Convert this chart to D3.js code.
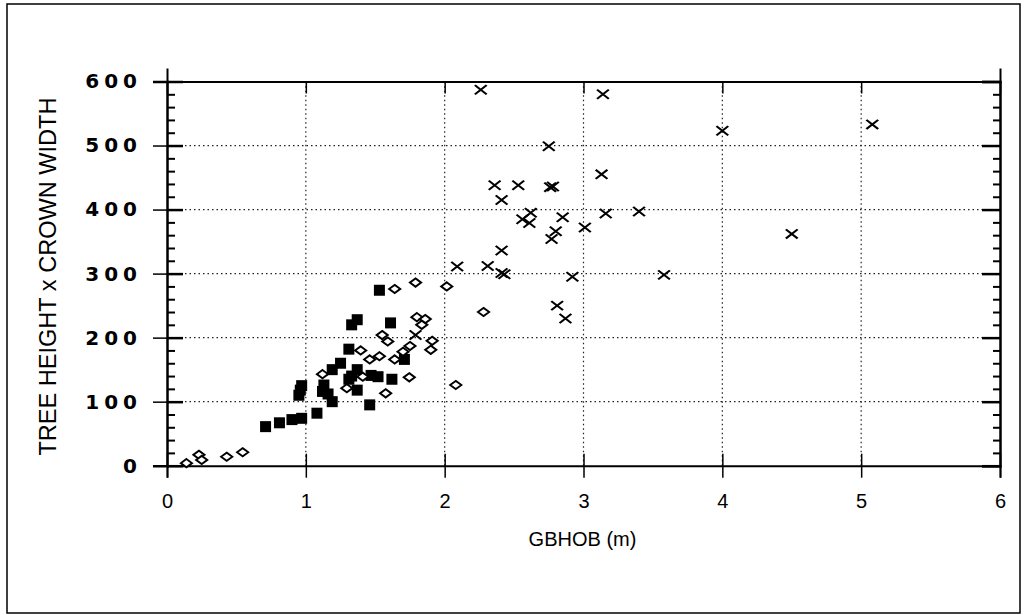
<!DOCTYPE html>
<html>
<head>
<meta charset="utf-8">
<script src="https://cdn.jsdelivr.net/npm/d3@7"></script>
<style>
  body { margin: 0; background: #fff; }
  svg { display: block; }
  text { font-family: "Liberation Sans", Arial, sans-serif; fill: #000; }
</style>
</head>
<body>
<div id="chart"></div>
<script>
// tick values
const xTicks = [0, 1, 2, 3, 4, 5, 6];
const yTicks = [0, 100, 200, 300, 400, 500, 600];

// filled squares [GBHOB, height x crown]
const squares = [
  [0.71, 61], [0.81, 67], [0.90, 72], [0.97, 74], [0.95, 110], [0.96, 118], [0.97, 125],
  [1.08, 82], [1.13, 126], [1.16, 112], [1.19, 100], [1.12, 116],
  [1.19, 150], [1.25, 160], [1.31, 182], [1.33, 220], [1.37, 228], [1.53, 274], [1.61, 223],
  [1.37, 150], [1.33, 140], [1.31, 135], [1.47, 141], [1.52, 139], [1.62, 135], [1.71, 166],
  [1.37, 118], [1.46, 95]
];

// open diamonds
const diamonds = [
  [0.14, 4], [0.23, 17], [0.25, 9], [0.43, 14], [0.545, 21],
  [1.12, 143], [1.295, 121], [1.395, 180], [1.41, 139], [1.46, 166], [1.53, 171],
  [1.55, 204], [1.59, 194], [1.575, 113], [1.64, 276], [1.64, 166], [1.70, 178],
  [1.75, 187], [1.745, 138], [1.79, 286], [1.80, 232], [1.86, 229], [1.835, 220],
  [1.91, 195], [1.90, 181], [2.015, 280], [2.28, 240], [2.08, 126]
];

// crosses
const crosses = [
  [2.26, 587], [3.14, 580], [2.75, 499], [3.13, 455], [2.36, 438], [2.53, 438],
  [2.76, 435], [2.78, 436], [2.41, 415], [2.62, 395], [2.56, 385], [2.61, 379],
  [2.85, 388], [3.16, 394], [3.40, 397], [3.01, 372], [2.80, 366], [2.77, 354],
  [2.41, 336], [2.09, 311], [2.31, 312], [2.41, 301], [2.43, 299], [2.92, 295],
  [3.58, 298], [2.81, 250], [2.87, 230], [4.00, 523], [4.50, 362], [5.08, 533],
  [1.79, 204]
];

const W = 1029, H = 615;
const plot = { left: 167, right: 1000, top: 81.5, bottom: 465.7 };

const svg = d3.select("#chart").append("svg")
  .attr("width", W).attr("height", H);

// outer frame
svg.append("rect")
  .attr("x", 7).attr("y", 4).attr("width", 1013).attr("height", 609)
  .attr("fill", "none").attr("stroke", "#000").attr("stroke-width", 1.5);

const x = d3.scaleLinear().domain([0, 6]).range([plot.left, plot.right]);
const y = d3.scaleLinear().domain([0, 600]).range([plot.bottom, plot.top]);

// dotted grid
svg.append("g").selectAll("line")
  .data(xTicks.slice(1, -1)).join("line")
  .attr("x1", d => x(d)).attr("x2", d => x(d))
  .attr("y1", y(0)).attr("y2", y(600))
  .attr("stroke", "#222").attr("stroke-width", 1.2).attr("stroke-dasharray", "1.5,3");
svg.append("g").selectAll("line")
  .data(yTicks.slice(1, -1)).join("line")
  .attr("x1", x(0)).attr("x2", x(6))
  .attr("y1", d => y(d)).attr("y2", d => y(d))
  .attr("stroke", "#222").attr("stroke-width", 1.2).attr("stroke-dasharray", "1.5,3");

const minorY = d3.range(0, 601, 20).filter(v => v % 100 !== 0);

// left axis: labels + outer half of major ticks
const leftAxis = svg.append("g").attr("transform", `translate(${plot.left},0)`)
  .call(d3.axisLeft(y).tickValues(yTicks).tickSize(14).tickPadding(16).tickFormat(d3.format("d")));
leftAxis.select(".domain").attr("stroke-width", 2.5);
leftAxis.selectAll(".tick line").attr("stroke-width", 1.5);
leftAxis.selectAll(".tick text")
  .style("font-family", "'DejaVu Sans', sans-serif")
  .style("font-size", "20px").style("font-weight", "bold")
  .style("letter-spacing", "5px").attr("dx", 5);
// inner major + minor ticks on left
svg.append("g").attr("transform", `translate(${plot.left},0)`)
  .call(d3.axisRight(y).tickValues(yTicks).tickSize(16).tickFormat(""))
  .call(g => g.select(".domain").remove())
  .selectAll("line").attr("stroke-width", 2.5);
svg.append("g").attr("transform", `translate(${plot.left},0)`)
  .call(d3.axisRight(y).tickValues(minorY).tickSize(8).tickFormat(""))
  .call(g => g.select(".domain").remove())
  .selectAll("line").attr("stroke-width", 2);

// right axis
const rightAxis = svg.append("g").attr("transform", `translate(${plot.right},0)`)
  .call(d3.axisLeft(y).tickValues(yTicks).tickSize(18).tickFormat(""));
rightAxis.select(".domain").attr("stroke-width", 2.5);
rightAxis.selectAll("line").attr("stroke-width", 2.5);
svg.append("g").attr("transform", `translate(${plot.right},0)`)
  .call(d3.axisLeft(y).tickValues(minorY).tickSize(7).tickFormat(""))
  .call(g => g.select(".domain").remove())
  .selectAll("line").attr("stroke-width", 2);

// bottom axis
const bottomAxis = svg.append("g").attr("transform", `translate(0,${plot.bottom})`)
  .call(d3.axisBottom(x).tickValues(xTicks).tickSize(12).tickPadding(16).tickFormat(d3.format("d")));
bottomAxis.select(".domain").attr("stroke-width", 2);
bottomAxis.selectAll(".tick line").attr("stroke-width", 1.5).attr("y1", -12);
bottomAxis.selectAll(".tick text").style("font-size", "20px");

// top axis
const topAxis = svg.append("g").attr("transform", `translate(0,${plot.top})`)
  .call(d3.axisTop(x).tickValues(xTicks).tickSize(13).tickFormat(""));
topAxis.select(".domain").attr("stroke-width", 2);
topAxis.selectAll(".tick line").attr("stroke-width", 1.5).attr("y2", 12);

// axis titles
svg.append("text")
  .attr("x", (plot.left + plot.right) / 2 - 1).attr("y", 546)
  .attr("text-anchor", "middle").attr("font-size", 20)
  .text("GBHOB (m)");
svg.append("text")
  .attr("transform", `translate(56,${(plot.top + plot.bottom) / 2 + 3}) rotate(-90)`)
  .attr("text-anchor", "middle").attr("font-size", 24)
  .attr("textLength", 358).attr("lengthAdjust", "spacingAndGlyphs")
  .text("TREE HEIGHT x CROWN WIDTH");

// markers
const marks = svg.append("g");
marks.selectAll(".sq").data(squares).join("rect")
  .attr("class", "sq")
  .attr("x", d => x(d[0]) - 5.5).attr("y", d => y(d[1]) - 5.5)
  .attr("width", 11).attr("height", 11).attr("fill", "#000");

const diamondPath = d3.symbol().type(d3.symbolDiamond2).size(60);
marks.selectAll(".di").data(diamonds).join("path")
  .attr("class", "di")
  .attr("transform", d => `translate(${x(d[0])},${y(d[1])}) scale(1.15,0.85)`)
  .attr("d", diamondPath)
  .attr("fill", "#fff").attr("stroke", "#000").attr("stroke-width", 2);

const crossPath = d3.symbol().type(d3.symbolX).size(70);
marks.selectAll(".cr").data(crosses).join("path")
  .attr("class", "cr")
  .attr("transform", d => `translate(${x(d[0])},${y(d[1])}) scale(1.15,0.9)`)
  .attr("d", crossPath)
  .attr("fill", "none").attr("stroke", "#000").attr("stroke-width", 2);
</script>
</body>
</html>
